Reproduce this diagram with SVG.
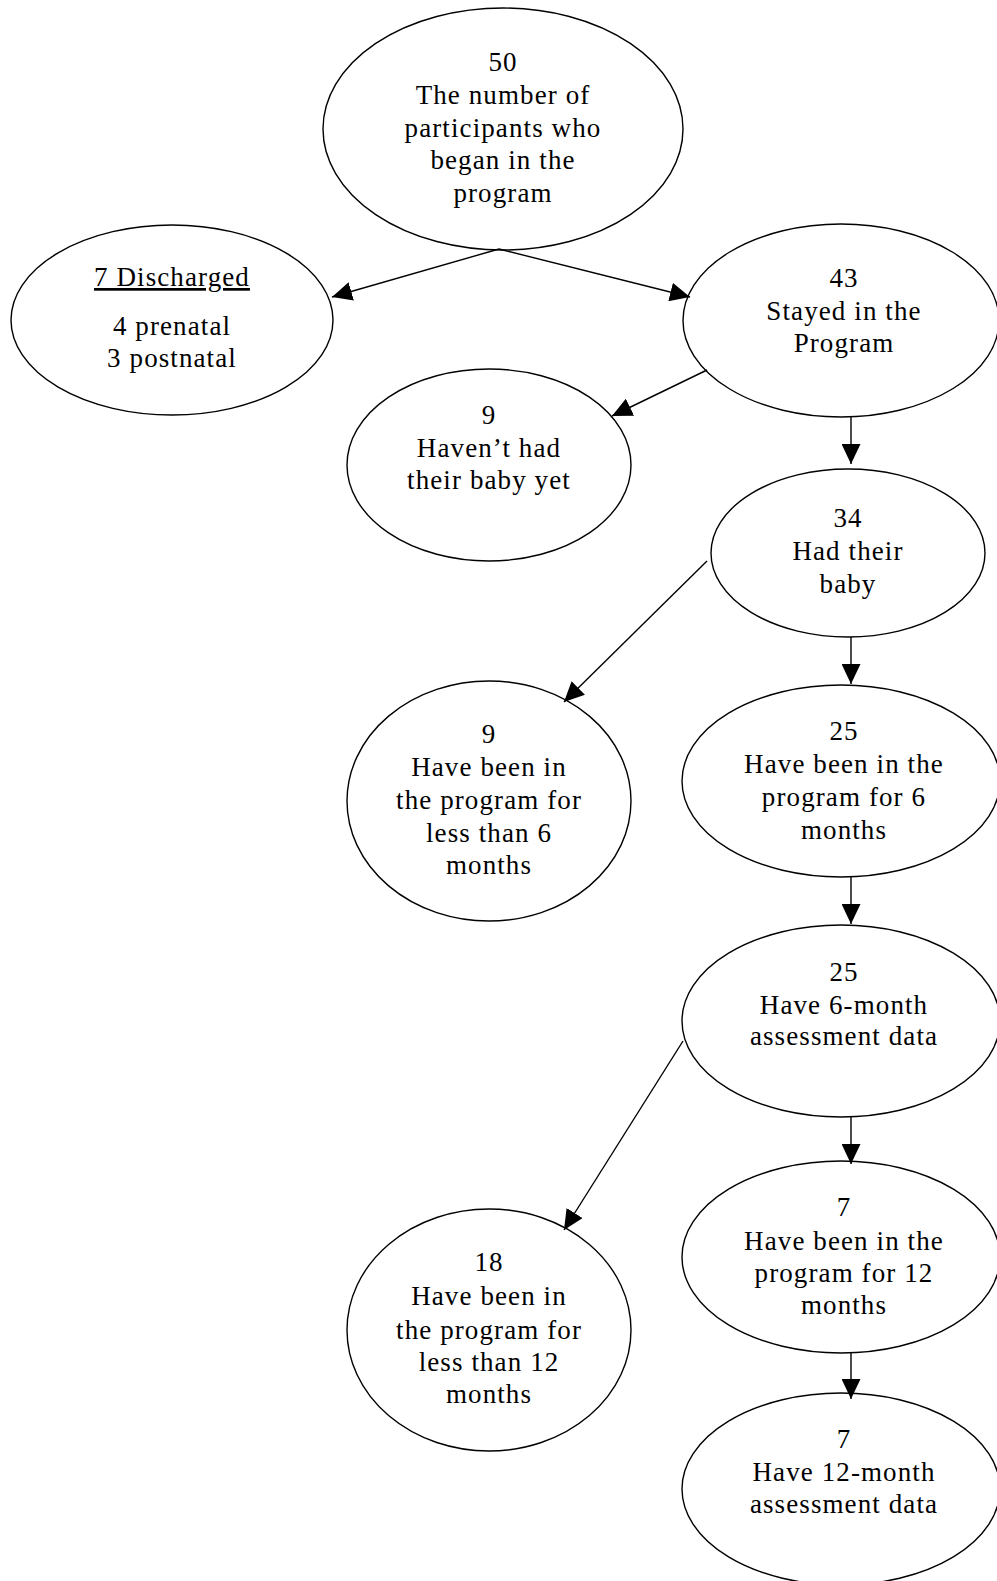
<svg xmlns="http://www.w3.org/2000/svg" width="997" height="1581" viewBox="0 0 997 1581">
<style>
.n ellipse{fill:#fff;stroke:#000;stroke-width:1.4}
.n text{font-family:"Liberation Serif","Times New Roman",serif;font-size:27px;letter-spacing:1.1px;fill:#000;text-anchor:middle}
.c line{stroke:#000;stroke-width:1.4;fill:none;marker-end:url(#ah)}
</style>
<defs>
<marker id="ah" markerUnits="userSpaceOnUse" markerWidth="20" markerHeight="19" refX="20" refY="9.5" orient="auto" viewBox="0 0 20 19">
<path d="M0,0 L20,9.5 L0,19 z" fill="#000"/>
</marker>
</defs>
<rect width="997" height="1581" fill="#fff"/>
<g id="n50" class="n">
<ellipse cx="503" cy="129" rx="180" ry="121"/>
<text x="503" y="71">50</text>
<text x="503" y="104">The number of</text>
<text x="503" y="136.5">participants who</text>
<text x="503" y="169">began in the</text>
<text x="503" y="201.5">program</text>
</g>
<g id="discharged" class="n">
<ellipse cx="172" cy="320" rx="161" ry="95"/>
<text x="172" y="286" text-decoration="underline">7 Discharged</text>
<text x="172" y="335">4 prenatal</text>
<text x="172" y="367">3 postnatal</text>
</g>
<g id="n43" class="n">
<ellipse cx="841" cy="320.5" rx="158" ry="96.5"/>
<text x="844" y="287">43</text>
<text x="844" y="320">Stayed in the</text>
<text x="844" y="352">Program</text>
</g>
<g id="n9a" class="n">
<ellipse cx="489" cy="465" rx="142" ry="96"/>
<text x="489" y="423.5">9</text>
<text x="489" y="456.5">Haven’t had</text>
<text x="489" y="489">their baby yet</text>
</g>
<g id="n34" class="n">
<ellipse cx="848" cy="553" rx="137" ry="84"/>
<text x="848" y="527">34</text>
<text x="848" y="560">Had their</text>
<text x="848" y="592.5">baby</text>
</g>
<g id="n9b" class="n">
<ellipse cx="489" cy="801" rx="142" ry="120"/>
<text x="489" y="742.5">9</text>
<text x="489" y="776">Have been in</text>
<text x="489" y="809">the program for</text>
<text x="489" y="841.5">less than 6</text>
<text x="489" y="874">months</text>
</g>
<g id="n25a" class="n">
<ellipse cx="841" cy="781" rx="159" ry="96"/>
<text x="844" y="740">25</text>
<text x="844" y="773">Have been in the</text>
<text x="844" y="806">program for 6</text>
<text x="844" y="838.5">months</text>
</g>
<g id="n25b" class="n">
<ellipse cx="841" cy="1021" rx="159" ry="96"/>
<text x="844" y="980.5">25</text>
<text x="844" y="1013.5">Have 6-month</text>
<text x="844" y="1044.5">assessment data</text>
</g>
<g id="n18" class="n">
<ellipse cx="489" cy="1330" rx="142" ry="121"/>
<text x="489" y="1271">18</text>
<text x="489" y="1304.5">Have been in</text>
<text x="489" y="1338.5">the program for</text>
<text x="489" y="1370.5">less than 12</text>
<text x="489" y="1403">months</text>
</g>
<g id="n7a" class="n">
<ellipse cx="841" cy="1257" rx="159" ry="96"/>
<text x="844" y="1216">7</text>
<text x="844" y="1249.5">Have been in the</text>
<text x="844" y="1282">program for 12</text>
<text x="844" y="1313.5">months</text>
</g>
<g id="n7b" class="n">
<ellipse cx="841" cy="1489" rx="159" ry="96"/>
<text x="844" y="1448">7</text>
<text x="844" y="1481">Have 12-month</text>
<text x="844" y="1513">assessment data</text>
</g>
<g id="connectors" class="c">
<line x1="499" y1="249" x2="332" y2="297"/>
<line x1="499" y1="249" x2="690" y2="297"/>
<line x1="707" y1="370" x2="612" y2="416"/>
<line x1="851" y1="417" x2="851" y2="464"/>
<line x1="707" y1="561" x2="564" y2="702"/>
<line x1="851" y1="637" x2="851" y2="684"/>
<line x1="851" y1="877" x2="851" y2="924"/>
<line x1="683" y1="1041" x2="564" y2="1230"/>
<line x1="851" y1="1117" x2="851" y2="1164"/>
<line x1="851" y1="1352" x2="851" y2="1399"/>
</g>
</svg>
